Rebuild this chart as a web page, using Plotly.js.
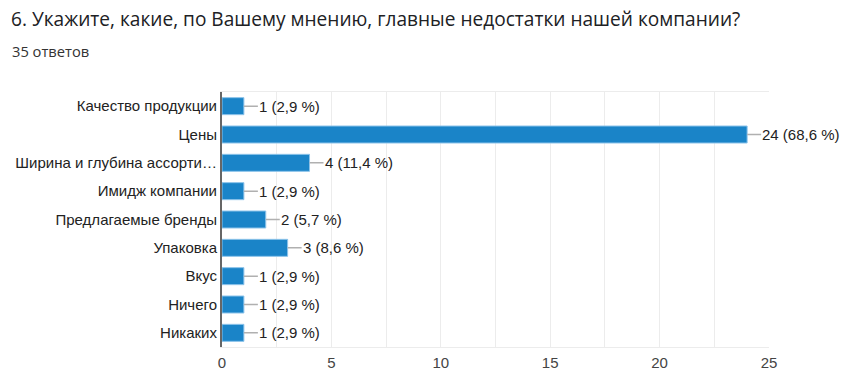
<!DOCTYPE html>
<html>
<head>
<meta charset="utf-8">
<script src="https://cdn.plot.ly/plotly-3.0.1.min.js"></script>
<style>
html,body{margin:0;padding:0;background:#fff;}
#chart{width:842px;height:379px;}
</style>
</head>
<body>
<div id="chart"></div>
<script>
var categories = ["Качество продукции","Цены","Ширина и глубина ассорти…","Имидж компании","Предлагаемые бренды","Упаковка","Вкус","Ничего","Никаких"];
var counts = [1,24,4,1,2,3,1,1,1];
var percents = ["2,9","68,6","11,4","2,9","5,7","8,6","2,9","2,9","2,9"];
var tickValues = [0,5,10,15,20,25];
var titleText = "6. Укажите, какие, по Вашему мнению, главные недостатки нашей компании?";
var subtitleText = "35 ответов";

var trace = {
  type: 'bar',
  orientation: 'h',
  x: counts,
  y: categories,
  marker: {color: '#1a84c8', line: {color: '#8cc3ea', width: 1}},
  hoverinfo: 'none'
};

var labelFont = {family: 'Liberation Sans, Arial, sans-serif', size: 15, color: '#222'};

var annotations = counts.map(function(v, i){
  return {
    x: v, y: categories[i], xref: 'x', yref: 'y',
    text: v + ' (' + percents[i] + ' %)',
    showarrow: true, arrowhead: 0, arrowwidth: 1.5, arrowcolor: '#b0b0b0',
    ax: 14, ay: 0, xanchor: 'left', standoff: 0, startstandoff: 0,
    borderpad: 0,
    font: labelFont
  };
});

var plotW = 547.5, plotH = 255;
annotations.push({
  xref: 'paper', yref: 'paper', x: -(222-9)/plotW, y: 1 + (92-19)/plotH,
  xanchor: 'left', yanchor: 'middle', showarrow: false,
  text: titleText,
  font: {family: 'Open Sans, sans-serif', size: 19.1, color: '#202124'}
});
annotations.push({
  xref: 'paper', yref: 'paper', x: -(222-10)/plotW, y: 1 + (92-51)/plotH,
  xanchor: 'left', yanchor: 'middle', showarrow: false,
  text: subtitleText,
  font: {family: 'Open Sans, sans-serif', size: 14.7, color: '#333'}
});

var layout = {
  width: 842, height: 379,
  margin: {l: 222, r: 72.5, t: 92, b: 32, pad: 0},
  paper_bgcolor: '#fff', plot_bgcolor: '#fff',
  showlegend: false,
  bargap: 0.4,
  xaxis: {
    range: [0, 25], tickvals: tickValues, ticktext: tickValues.map(String),
    showgrid: true, gridcolor: '#ececec', gridwidth: 1,
    minor: {dtick: 2.5, showgrid: true, gridcolor: '#ececec', gridwidth: 1},
    zeroline: false, showline: true, mirror: true, linecolor: '#ececec', linewidth: 1,
    ticks: '', ticklen: 0, ticklabelstandoff: 2,
    tickfont: {family: 'Liberation Sans, Arial, sans-serif', size: 15, color: '#444'},
    fixedrange: true
  },
  yaxis: {
    autorange: 'reversed', type: 'category',
    showline: true, linecolor: '#666', linewidth: 2,
    showgrid: false, zeroline: false, ticks: '', ticklen: 0,
    ticklabelstandoff: 0,
    tickfont: labelFont,
    fixedrange: true
  },
  annotations: annotations
};

Plotly.newPlot('chart', [trace], layout, {displayModeBar: false, staticPlot: true});
</script>
</body>
</html>
